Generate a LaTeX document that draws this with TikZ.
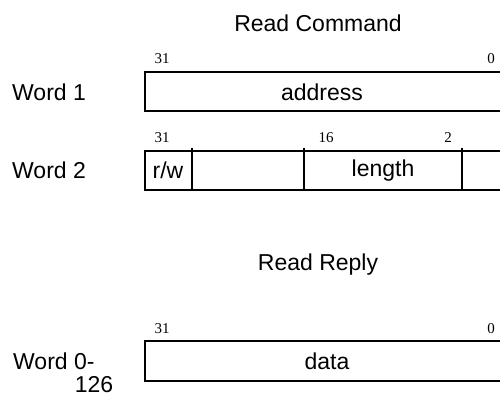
\documentclass[tikz,border=0pt]{standalone}
\usepackage{fontspec}
\setmainfont{Liberation Sans}
\newfontfamily\numfont{Liberation Serif}
\begin{document}
\begin{tikzpicture}[x=1pt,y=-1pt,
  lbl/.style={inner sep=0pt,font=\fontsize{23}{23}\selectfont},
  bit/.style={inner sep=0pt,anchor=base,font=\numfont\fontsize{15}{15}\selectfont},
  frame/.style={line width=1.3pt}]
\useasboundingbox (0,0) rectangle (500,398);
\node[lbl] (t1) at (318,23) {Read Command};
\node[lbl,anchor=west] (w1) at (12,92) {Word 1};
\draw[frame] (500,72) -- (145,72) -- (145,111) -- (500,111);
\node[lbl] (addr) at (322,92) {address};
\node[bit] (b1a) at (162,64) {31};
\node[bit] (b1b) at (491,64) {0};
\node[lbl,anchor=west] (w2) at (12,170) {Word 2};
\draw[frame] (500,151) -- (145,151) -- (145,190) -- (500,190);
\draw[frame] (192,148) -- (192,190);
\draw[frame] (304,148) -- (304,190);
\draw[frame] (462,148) -- (462,190);
\node[lbl] (rw) at (168,170) {r/w};
\node[lbl] (len) at (383,171) {length};
\node[bit] (b2a) at (162,143) {31};
\node[bit] (b2b) at (326,143) {16};
\node[bit] (b2c) at (448,143) {2};
\node[lbl] (t2) at (318,265) {Read Reply};
\draw[frame] (500,341) -- (145,341) -- (145,381) -- (500,381);
\node[lbl] (data) at (327,361) {data};
\node[bit] (b3a) at (162,333) {31};
\node[bit] (b3b) at (491,333) {0};
\node[lbl,anchor=west] (w0) at (13,361) {Word 0-};
\node[lbl] (w0b) at (94,385) {126};
\end{tikzpicture}
\end{document}
